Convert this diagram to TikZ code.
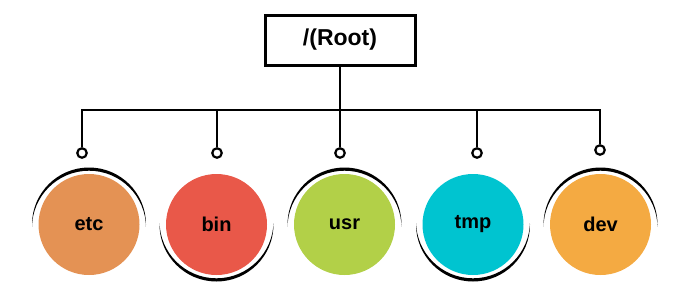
\documentclass[tikz,border=0pt]{standalone}
\usepackage{fontspec}
\setmainfont{Liberation Sans}
\definecolor{cetc}{RGB}{228,146,84}
\definecolor{cbin}{RGB}{233,88,73}
\definecolor{cusr}{RGB}{178,208,72}
\definecolor{ctmp}{RGB}{0,196,208}
\definecolor{cdev}{RGB}{244,170,66}
\tikzset{
  rootbox/.style={draw=black, line width=3pt, fill=white, minimum width=150pt, minimum height=50pt, inner sep=0pt, font=\fontsize{23}{26}\selectfont\bfseries},
  dir/.style={circle, minimum size=101pt, inner sep=0pt, font=\fontsize{20}{23}\selectfont\bfseries, text=black},
  ring/.style={circle, draw=black, line width=2.2pt, fill=white, minimum size=9.5pt, inner sep=0pt},
  wire/.style={draw=black, line width=1.8pt},
}
\newcommand{\toparc}[2]{%
  \begin{scope}
    \clip (#1-60,#2-60) rectangle (#1+60,#2+1.5);
    \fill[black, even odd rule] (#1,#2) circle (57) (#1,#2+3.2) circle (57);
  \end{scope}}
\newcommand{\botarc}[2]{%
  \begin{scope}
    \clip (#1-60,#2-1.5) rectangle (#1+60,#2+60);
    \fill[black, even odd rule] (#1,#2) circle (57) (#1,#2-3.2) circle (57);
  \end{scope}}
\begin{document}
\begin{tikzpicture}[x=1pt,y=-1pt]
\useasboundingbox (0,0) rectangle (700,300);

\node[rootbox] (root) at (340,40) {/(Root)};
\coordinate (bus) at (340,110);

\node[ring] (retc) at (82,153) {};
\node[ring] (rbin) at (217,153) {};
\node[ring] (rusr) at (340,153) {};
\node[ring] (rtmp) at (477,153) {};
\node[ring] (rdev) at (600,150) {};

\toparc{89}{224.5}
\botarc{216.5}{224.5}
\toparc{344.5}{224.5}
\botarc{473}{224.5}
\toparc{600.5}{224.5}

\node[dir, fill=cetc] (etc) at (89,224.5) {etc};
\node[dir, fill=cbin] (bin) at (216.5,224.5) {bin};
\node[dir, fill=cusr] (usr) at (344.5,224.5) {usr};
\node[dir, fill=ctmp] (tmp) at (473,224.5) {tmp};
\node[dir, fill=cdev] (dev) at (600.5,224.5) {dev};

\draw[wire] (root.south) -- (bus);
\draw[wire] (retc.north) -- (retc.north |- bus) -- (rdev.north |- bus) -- (rdev.north);
\draw[wire] (rbin.north) -- (rbin.north |- bus);
\draw[wire] (rusr.north) -- (rusr.north |- bus);
\draw[wire] (rtmp.north) -- (rtmp.north |- bus);
\end{tikzpicture}
\end{document}
